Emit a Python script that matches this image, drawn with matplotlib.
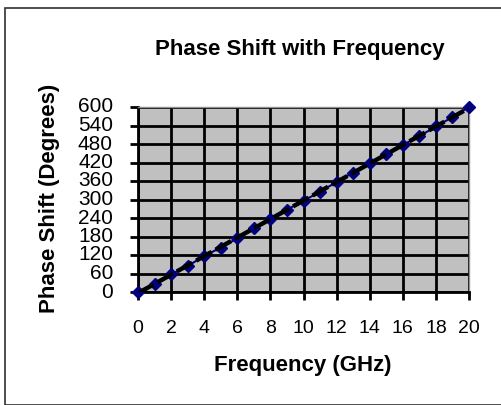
import matplotlib
matplotlib.use("Agg")
import matplotlib.pyplot as plt
from matplotlib.patches import Rectangle
import numpy as np

# Data
freq_ghz = [0, 1, 2, 3, 4, 5, 6, 7, 8, 9, 10, 11, 12, 13, 14, 15, 16, 17, 18, 19, 20]
phase_deg = [0, 27, 57, 84, 117, 144, 174, 206, 237, 267, 296, 325, 357, 387, 417, 446, 477, 505, 537, 567, 600]
x_ticks = [0, 2, 4, 6, 8, 10, 12, 14, 16, 18, 20]
y_ticks = [0, 60, 120, 180, 240, 300, 360, 420, 480, 540, 600]

plt.rcParams['font.family'] = ['Liberation Sans', 'DejaVu Sans']

fig = plt.figure(figsize=(5.02, 4.05), dpi=100)
W, H = 502, 405

# outer chart frame (partly cropped at right/bottom)
fig.patches.append(Rectangle((5 / W, 0), 1.2, 1 - 8 / H, transform=fig.transFigure,
                             fill=False, edgecolor='#303030', linewidth=1.2))

ax = fig.add_axes([138 / W, 1 - 292 / H, (469 - 138) / W, (292 - 107) / H])
ax.set_facecolor('#C0C0C0')

# data points and trend line
ax.plot(freq_ghz, phase_deg, color='#000080', marker='D', markersize=6, linewidth=1.5,
        zorder=3, clip_on=False)
fit = np.polyfit(freq_ghz, phase_deg, 1)
ax.plot([0, 20], np.polyval(fit, [0, 20]), color='black', linewidth=3.2,
        linestyle=(0, (4, 1)), zorder=4)

ax.set_xlim(0, 20)
ax.set_ylim(0, 600)
ax.set_xticks(x_ticks)
ax.set_yticks(y_ticks)
ax.grid(True, color='black', linewidth=2.0)
ax.set_axisbelow(True)

for side in ['top', 'right']:
    ax.spines[side].set_color('#909090')
    ax.spines[side].set_linewidth(1.0)
for side in ['left', 'bottom']:
    ax.spines[side].set_color('black')
    ax.spines[side].set_linewidth(2.0)

ax.tick_params(axis='both', direction='out', length=6, width=2.0, color='black',
               labelsize=14)
ax.tick_params(axis='x', pad=14)
ax.tick_params(axis='y', pad=12, labelsize=15)
for lbl in ax.get_yticklabels():
    lbl.set_verticalalignment('center')

fig.text(300 / W, 1 - 49 / H, 'Phase Shift with Frequency', ha='center', va='center',
         fontsize=16, fontweight='bold')
fig.text(303 / W, 1 - 365 / H, 'Frequency (GHz)', ha='center', va='center',
         fontsize=16, fontweight='bold')
fig.text(50 / W, 1 - 198 / H, 'Phase Shift (Degrees)', ha='center', va='center',
         rotation=90, fontsize=16, fontweight='bold')

fig.savefig('out.png', dpi=100)
